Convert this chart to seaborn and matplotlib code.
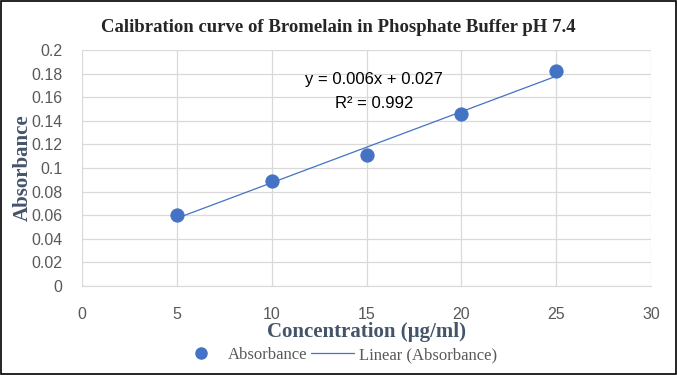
import numpy as np
import pandas as pd
import seaborn as sns
import matplotlib.pyplot as plt
from matplotlib.lines import Line2D

concentration = [5, 10, 15, 20, 25]
absorbance = [0.060, 0.089, 0.111, 0.146, 0.182]

df = pd.DataFrame({"Concentration": concentration, "Absorbance": absorbance})

sns.set_style("white")
plt.rcParams["font.family"] = ["Liberation Serif", "DejaVu Serif"]

BLUE = "#4472C4"
GRID = "#D9D9D9"
TICK = "#595959"
LABEL = "#44546A"
TICKFONT = ["Liberation Sans", "DejaVu Sans"]

fig = plt.figure(figsize=(6.77, 3.75), dpi=100)
ax = fig.add_axes([82 / 677, 1 - 286 / 375, (651 - 82) / 677, (286 - 50) / 375])

sns.regplot(data=df, x="Concentration", y="Absorbance", ax=ax, ci=None,
            scatter=False, line_kws={"color": BLUE, "lw": 0.9})
sns.scatterplot(data=df, x="Concentration", y="Absorbance", ax=ax,
                color=BLUE, s=90, edgecolor=BLUE, zorder=3)

ax.set_xlim(0, 30)
ax.set_ylim(0, 0.2)
yt = np.arange(0, 0.201, 0.02)
ax.set_xticks(range(0, 31, 5))
ax.set_yticks(yt)
ax.set_yticklabels(["0" if v == 0 else f"{v:.2f}".rstrip("0") for v in yt])
for lab in ax.get_xticklabels() + ax.get_yticklabels():
    lab.set_family(TICKFONT)
ax.grid(True, color=GRID, lw=0.9)
for s in ax.spines.values():
    s.set_visible(False)
ax.spines["bottom"].set_visible(True)
ax.spines["bottom"].set_color(GRID)
ax.tick_params(axis="x", colors=TICK, labelsize=11.5, pad=15, length=0)
ax.tick_params(axis="y", colors=TICK, labelsize=11.5, pad=14, length=0)

ax.set_xlabel("Concentration (µg/ml)", fontsize=15, fontweight="bold", color=LABEL, labelpad=0)
ax.set_ylabel("Absorbance", fontsize=15, fontweight="bold", color=LABEL, labelpad=-1)

slope, intercept = np.polyfit(concentration, absorbance, 1)
r2 = np.corrcoef(concentration, absorbance)[0, 1] ** 2
ax.text(15.4, 0.175, f"y = {slope:.3f}x + {intercept:.3f}", ha="center", va="center",
        fontsize=12, family=TICKFONT, color="#000000")
ax.text(15.4, 0.155, f"R² = {r2:.3f}", ha="center", va="center", fontsize=12,
        family=TICKFONT, color="#000000")

fig.text(0.5, 1 - 28 / 375, "Calibration curve of Bromelain in Phosphate Buffer pH 7.4",
         ha="center", va="center", fontsize=13.5, fontweight="bold")

handles = [Line2D([], [], marker="o", color=BLUE, ls="none", markersize=8),
           Line2D([], [], color=BLUE, lw=0.9)]
fig.legend(handles, ["Absorbance", "Linear (Absorbance)"], loc="center",
           bbox_to_anchor=(0.5, 1 - 355 / 375), ncol=2, frameon=False,
           fontsize=12, labelcolor=TICK, handlelength=2.6, columnspacing=0.2,
           handletextpad=0.3)

fig.patches.append(plt.Rectangle((0.001, 0.002), 0.997, 0.996, transform=fig.transFigure,
                                 fill=False, edgecolor="black", lw=1.2))

fig.savefig("out.png", dpi=100)
